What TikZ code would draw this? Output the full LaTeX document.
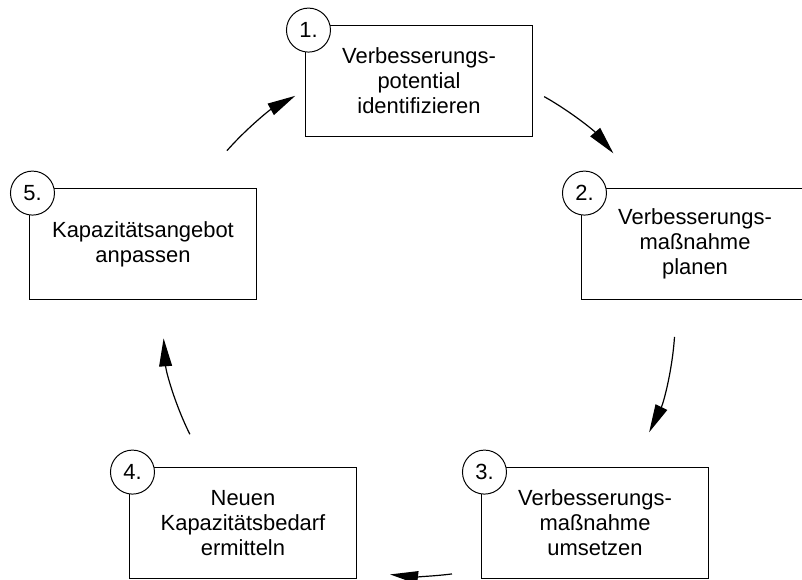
\documentclass[tikz,border=0pt]{standalone}
\usepackage{fontspec}
\setmainfont{Liberation Sans}
\usetikzlibrary{arrows.meta}

\begin{document}
\begin{tikzpicture}[x=0.025cm,y=-0.025cm,
  font=\fontsize{15.6}{17.8}\selectfont,
  >={Triangle[length=0.7cm,width=0.32cm]},
  box/.style={draw,line width=0.7pt,minimum width=5.65cm,minimum height=2.77cm,align=center,inner sep=0pt},
  num/.style={draw,circle,line width=0.7pt,fill=white,minimum size=1.1cm,inner sep=0pt},
  flow/.style={->,line width=0.85pt}]
\useasboundingbox (0,0) rectangle (802,579);
\node[box] (S1) at (419,81) {Verbesserungs-\\potential\\identifizieren};
\node[box] (S2) at (695,244) {Verbesserungs-\\maßnahme\\planen};
\node[box] (S3) at (595,523) {Verbesserungs-\\maßnahme\\umsetzen};
\node[box] (S4) at (243,523) {Neuen\\Kapazitätsbedarf\\ermitteln};
\node[box] (S5) at (143,244) {Kapazitätsangebot\\anpassen};
\node[num] (N1) at ([shift={(3,5)}]S1.north west) {1.};
\node[num] (N2) at ([shift={(3,5)}]S2.north west) {2.};
\node[num] (N3) at ([shift={(3,5)}]S3.north west) {3.};
\node[num] (N4) at ([shift={(3,5)}]S4.north west) {4.};
\node[num] (N5) at ([shift={(3,5)}]S5.north west) {5.};
% cycle arrows on one circle round the middle
\coordinate (C) at (419,320);
\coordinate (A51) at ([shift={(138.6:6.4cm)}]C);
\coordinate (A12) at ([shift={(60.75:6.4cm)}]C);
\coordinate (A23) at ([shift={(-3.8:6.4cm)}]C);
\coordinate (A34) at ([shift={(-82.6:6.4cm)}]C);
\coordinate (A45) at ([shift={(-153.5:6.4cm)}]C);
\draw[flow] (A51) arc[start angle=138.6,end angle=118.9,radius=6.4cm];
\draw[flow] (A12) arc[start angle=60.75,end angle=40.6,radius=6.4cm];
\draw[flow] (A23) arc[start angle=-3.8,end angle=-26,radius=6.4cm];
\draw[flow] (A34) arc[start angle=-82.6,end angle=-96.5,radius=6.4cm];
\draw[flow] (A45) arc[start angle=-153.5,end angle=-175.9,radius=6.4cm];
\end{tikzpicture}
\end{document}
